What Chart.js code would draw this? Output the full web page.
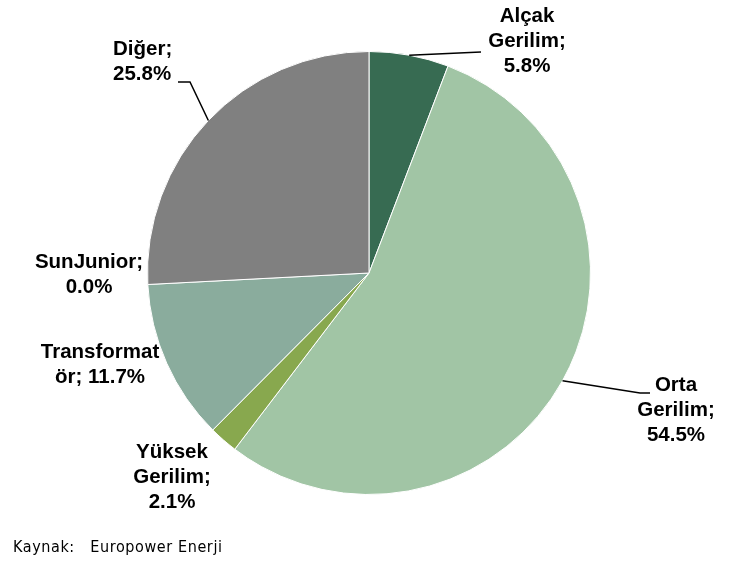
<!DOCTYPE html>
<html>
<head>
<meta charset="utf-8">
<script src="https://cdn.jsdelivr.net/npm/chart.js"></script>
<style>
  html, body { margin: 0; padding: 0; background: #fff; }
  #wrap { position: relative; width: 745px; height: 562px; }
  #src { position: absolute; left: 13px; top: 537px; font-family: "DejaVu Sans Condensed", "Liberation Sans Narrow", sans-serif; font-size: 16px; letter-spacing: 0.6px; color: #000; white-space: pre; }
</style>
</head>
<body>
<div id="wrap">
  <canvas id="c" width="745" height="562"></canvas>
  <div id="src">Kaynak:   Europower Enerji</div>
</div>
<script>
const categories = ["Alçak Gerilim", "Orta Gerilim", "Yüksek Gerilim", "Transformatör", "SunJunior", "Diğer"];
const values = [5.8, 54.5, 2.1, 11.7, 0.0, 25.8];
const colors = ["#376B52", "#A1C5A5", "#88A84E", "#8AAC9D", "#A6A6A6", "#808080"];

// label layout: text lines, anchor (x, y of first line), alignment, optional leader line path
const labelLayout = [
  { lines: ["Alçak", "Gerilim;", "5.8%"], x: 527, y: 16, align: "center", leader: [[481, 52]] },
  { lines: ["Orta", "Gerilim;", "54.5%"], x: 676, y: 385, align: "center", leader: [[640, 393], [650, 393]] },
  { lines: ["Yüksek", "Gerilim;", "2.1%"], x: 172, y: 452, align: "center", leader: null },
  { lines: ["Transformat", "ör; 11.7%"], x: 100, y: 352, align: "center", leader: null },
  { lines: ["SunJunior;", "0.0%"], x: 89, y: 262, align: "center", leader: null },
  { lines: ["Diğer;", "25.8%"], x: 113, y: 49, align: "left", leader: [[190, 82], [178, 82]] }
];

const labelPlugin = {
  id: 'labels',
  afterDraw(chart) {
    const ctx = chart.ctx;
    const meta = chart.getDatasetMeta(0);
    ctx.save();
    ctx.fillStyle = '#000';
    ctx.font = 'bold 20.5px "Liberation Sans", Arial, sans-serif';
    ctx.textBaseline = 'middle';
    labelLayout.forEach((lab, i) => {
      ctx.textAlign = lab.align;
      lab.lines.forEach((t, k) => ctx.fillText(t, lab.x, lab.y + k * 25));
      if (lab.leader) {
        const arc = meta.data[i];
        const mid = (arc.startAngle + arc.endAngle) / 2;
        const r = arc.outerRadius;
        ctx.beginPath();
        ctx.strokeStyle = '#000';
        ctx.lineWidth = 1.5;
        ctx.moveTo(arc.x + r * Math.cos(mid), arc.y + r * Math.sin(mid));
        lab.leader.forEach(p => ctx.lineTo(p[0], p[1]));
        ctx.stroke();
      }
    });
    ctx.restore();
  }
};

new Chart(document.getElementById('c'), {
  type: 'pie',
  data: {
    labels: categories,
    datasets: [{
      data: values,
      backgroundColor: colors,
      borderColor: '#ffffff',
      borderWidth: 1
    }]
  },
  options: {
    responsive: false,
    devicePixelRatio: 1,
    animation: false,
    layout: { padding: { top: 51, bottom: 67, left: 147, right: 154 } },
    plugins: {
      legend: { display: false },
      tooltip: { enabled: false }
    }
  },
  plugins: [labelPlugin]
});
</script>
</body>
</html>
